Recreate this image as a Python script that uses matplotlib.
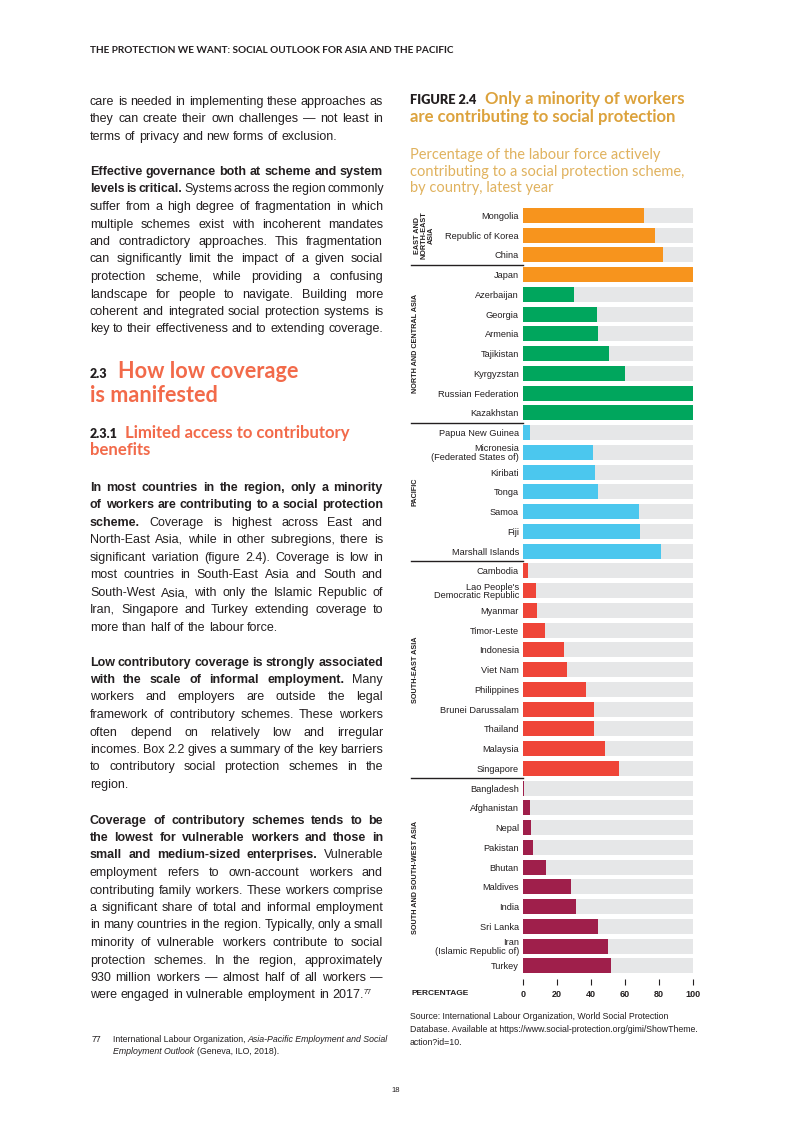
import matplotlib
matplotlib.use('Agg')
import matplotlib.pyplot as plt

W, H = 793, 1122  # page size in pixels

# chart data (percent of labour force contributing)
countries = ['Mongolia', 'Republic of Korea', 'China', 'Japan',
             'Azerbaijan', 'Georgia', 'Armenia', 'Tajikistan', 'Kyrgyzstan',
             'Russian Federation', 'Kazakhstan',
             'Papua New Guinea', 'Micronesia\n(Federated States of)', 'Kiribati',
             'Tonga', 'Samoa', 'Fiji', 'Marshall Islands',
             'Cambodia', "Lao People's\nDemocratic Republic", 'Myanmar', 'Timor-Leste',
             'Indonesia', 'Viet Nam', 'Philippines', 'Brunei Darussalam', 'Thailand',
             'Malaysia', 'Singapore',
             'Bangladesh', 'Afghanistan', 'Nepal', 'Pakistan', 'Bhutan', 'Maldives',
             'India', 'Sri Lanka', 'Iran\n(Islamic Republic of)', 'Turkey']
coverage = [71.2, 77.6, 82.4, 100,
            30.0, 43.5, 44.1, 50.6, 60.0, 100, 100,
            4.1, 41.2, 42.4, 44.1, 68.2, 68.8, 81.2,
            2.9, 7.6, 8.2, 12.9, 24.1, 25.9, 37.1, 41.8, 41.8, 48.2, 56.5,
            0.6, 4.1, 4.7, 5.9, 13.5, 28.2, 31.2, 44.1, 50.0, 51.8]
colour_counts = [4, 7, 7, 11, 10]
group_colours = ['#F7941D', '#00A65D', '#4BC7EE', '#EF4538', '#9F1F4B']
region_names = ['EAST AND\nNORTH-EAST\nASIA', 'NORTH AND CENTRAL ASIA', 'PACIFIC',
                'SOUTH-EAST ASIA', 'SOUTH AND SOUTH-WEST ASIA']
region_rows = [(0, 2), (3, 10), (11, 17), (18, 28), (29, 38)]
divider_rows = [2.5, 10.5, 17.5, 28.5]
x_ticks = [0, 20, 40, 60, 80, 100]

INK = '#231F20'
BODY = 'Liberation Sans'
HEAD = 'Lato'

fig = plt.figure(figsize=(W / 100, H / 100), dpi=100)
fig.patch.set_facecolor('white')
renderer = fig.canvas.get_renderer()


def T(x, y, s, **kw):
    # place text with pixel coords measured from the top-left of the page
    kw.setdefault('color', INK)
    kw.setdefault('va', 'baseline')
    return fig.text(x / W, 1 - y / H, s, **kw)


def body_line(y, words, nbold, justify, size=9.0, x0=90, x1=383):
    y = round(y)  # whole-pixel baseline keeps the words of a line level
    texts = [T(0, y, w, fontsize=size, family=BODY,
               fontweight='bold' if i < nbold else 'normal')
             for i, w in enumerate(words)]
    widths = [t.get_window_extent(renderer).width for t in texts]
    px_em = size * 100 / 72
    min_gap = 0.15 * px_em
    n = len(words)
    need = sum(widths) + (n - 1) * min_gap
    if need > x1 - x0:
        # too tight: shrink this line a little
        f = (x1 - x0) / need
        for t in texts:
            t.set_fontsize(size * f)
        widths = [t.get_window_extent(renderer).width for t in texts]
        min_gap *= f
    if justify and n > 1:
        gap = max((x1 - x0 - sum(widths)) / (n - 1), min_gap)
    else:
        gap = 0.28 * px_em
    x = x0
    for t, w in zip(texts, widths):
        t.set_x(x / W)
        x += w + gap
    return x - gap, y


# ---- running header
T(90, 53, 'THE PROTECTION WE WANT: SOCIAL OUTLOOK FOR ASIA AND THE PACIFIC',
  fontsize=7.2, family=HEAD, fontweight='bold')

# ---- left column body text
paragraphs = [
    (105, [('care is needed in implementing these approaches as', 0, True),
           ('they can create their own challenges — not least in', 0, True),
           ('terms of privacy and new forms of exclusion.', 0, False)]),
    (175, [('Effective governance both at scheme and system', 7, True),
           ('levels is critical. Systems across the region commonly', 3, True),
           ('suffer from a high degree of fragmentation in which', 0, True),
           ('multiple schemes exist with incoherent mandates', 0, True),
           ('and contradictory approaches. This fragmentation', 0, True),
           ('can significantly limit the impact of a given social', 0, True),
           ('protection scheme, while providing a confusing', 0, True),
           ('landscape for people to navigate. Building more', 0, True),
           ('coherent and integrated social protection systems is', 0, True),
           ('key to their effectiveness and to extending coverage.', 0, True)]),
    (490.7, [('In most countries in the region, only a minority', 9, True),
             ('of workers are contributing to a social protection', 8, True),
             ('scheme. Coverage is highest across East and', 1, True),
             ('North-East Asia, while in other subregions, there is', 0, True),
             ('significant variation (figure 2.4). Coverage is low in', 0, True),
             ('most countries in South-East Asia and South and', 0, True),
             ('South-West Asia, with only the Islamic Republic of', 0, True),
             ('Iran, Singapore and Turkey extending coverage to', 0, True),
             ('more than half of the labour force.', 0, False)]),
    (665.5, [('Low contributory coverage is strongly associated', 6, True),
             ('with the scale of informal employment. Many', 6, True),
             ('workers and employers are outside the legal', 0, True),
             ('framework of contributory schemes. These workers', 0, True),
             ('often depend on relatively low and irregular', 0, True),
             ('incomes. Box 2.2 gives a summary of the key barriers', 0, True),
             ('to contributory social protection schemes in the', 0, True),
             ('region.', 0, False)]),
    (823.5, [('Coverage of contributory schemes tends to be', 7, True),
             ('the lowest for vulnerable workers and those in', 8, True),
             ('small and medium-sized enterprises. Vulnerable', 4, True),
             ('employment refers to own-account workers and', 0, True),
             ('contributing family workers. These workers comprise', 0, True),
             ('a significant share of total and informal employment', 0, True),
             ('in many countries in the region. Typically, only a small', 0, True),
             ('minority of vulnerable workers contribute to social', 0, True),
             ('protection schemes. In the region, approximately', 0, True),
             ('930 million workers — almost half of all workers —', 0, True),
             ('were engaged in vulnerable employment in 2017.', 0, False)]),
]
for y0, lines in paragraphs:
    for i, (s, nb, just) in enumerate(lines):
        end, yb = body_line(y0 + i * 17.5, s.split(' '), nb, just)
T(end + 0.5, yb - 4, '77', fontsize=5.2, family=BODY)

# ---- section headings
CORAL = '#F26A4A'
T(90, 378, '2.3', fontsize=9, family=HEAD, fontweight='heavy')
T(118, 378, 'How low coverage', fontsize=15.6, family=HEAD, fontweight='bold', color=CORAL)
T(90, 402, 'is manifested', fontsize=15.6, family=HEAD, fontweight='bold', color=CORAL)
T(90, 438, '2.3.1', fontsize=9, family=HEAD, fontweight='heavy')
T(125, 438, 'Limited access to contributory', fontsize=12.1, family=HEAD,
  fontweight='bold', color=CORAL)
T(90, 455, 'benefits', fontsize=12.1, family=HEAD, fontweight='bold', color=CORAL)

# ---- footnote and page number
T(91.5, 1042, '77', fontsize=6.3, family=BODY)
t1 = T(113, 1042, 'International Labour Organization,', fontsize=6.3, family=BODY)
w1 = t1.get_window_extent(renderer).width
T(113 + w1 + 2.4, 1042, 'Asia-Pacific Employment and Social', fontsize=6.3, family=BODY,
  style='italic')
t2 = T(113, 1054, 'Employment Outlook', fontsize=6.3, family=BODY, style='italic')
w2 = t2.get_window_extent(renderer).width
T(113 + w2 + 2.4, 1054, '(Geneva, ILO, 2018).', fontsize=6.3, family=BODY)
T(396, 1092, '18', fontsize=5.5, family=BODY, ha='center')

# ---- figure title block
GOLD = '#DCA23C'
T(410, 104, 'FIGURE 2.4', fontsize=9.2, family=HEAD, fontweight='heavy')
T(485, 104, 'Only a minority of workers', fontsize=12.1, family=HEAD,
  fontweight='bold', color=GOLD)
T(410, 122, 'are contributing to social protection', fontsize=12.1, family=HEAD,
  fontweight='bold', color=GOLD)
for i, s in enumerate(['Percentage of the labour force actively',
                       'contributing to a social protection scheme,',
                       'by country, latest year']):
    T(410, round(159 + i * 16.7), s, fontsize=10.5, family=HEAD, fontweight='normal',
      color='#E0B25E')

# ---- the bar chart
ax = fig.add_axes([523 / W, 1 - 975.7 / H, 170 / W, 770.3 / H])
colours = []
for n, c in zip(colour_counts, group_colours):
    colours += [c] * n
rows = list(range(len(countries)))
ax.barh(rows, [100] * len(rows), height=0.76, color='#E6E7E8', zorder=1)
ax.barh(rows, coverage, height=0.76, color=colours, zorder=2)
ax.set_xlim(0, 100)
ax.set_ylim(len(rows) - 0.5, -0.5)
ax.set_yticks(rows, countries)
for t in ax.get_yticklabels():
    t.set_linespacing(0.95)
ax.tick_params(axis='y', length=0, pad=2.9, labelsize=6.7, labelcolor=INK)
for lab in ax.get_yticklabels():
    lab.set_family(BODY)
for s in ax.spines.values():
    s.set_visible(False)
ax.spines['bottom'].set_position(('outward', 2.6))
ax.set_xticks(x_ticks, [str(v) for v in x_ticks])
ax.tick_params(axis='x', length=4.2, width=0.8, color=INK, pad=3.2, labelsize=6.5,
               labelcolor=INK)
for lab in ax.get_xticklabels():
    lab.set_family(BODY)
    lab.set_fontweight('bold')
ax.set_facecolor('none')

ytr = ax.get_yaxis_transform()
for r in divider_rows:
    ax.plot([-0.66, 0], [r, r], transform=ytr, clip_on=False, color=INK, lw=1.0)
for name, (r0, r1) in zip(region_names, region_rows):
    xc = -0.58 if '\n' in name else -0.635
    ax.text(xc, (r0 + r1) / 2, name, transform=ytr, rotation=90, ha='center',
            va='center', fontsize=5.2, family=BODY, fontweight='bold', color=INK,
            linespacing=1.05)

T(412, 995, 'PERCENTAGE', fontsize=6.0, family=BODY, fontweight='bold')

# ---- source note
for i, s in enumerate(['Source: International Labour Organization, World Social Protection',
                       'Database. Available at https://www.social-protection.org/gimi/ShowTheme.',
                       'action?id=10.']):
    T(410, 1019 + i * 13, s, fontsize=6.3, family=BODY)

fig.savefig('out.png', dpi=100)
